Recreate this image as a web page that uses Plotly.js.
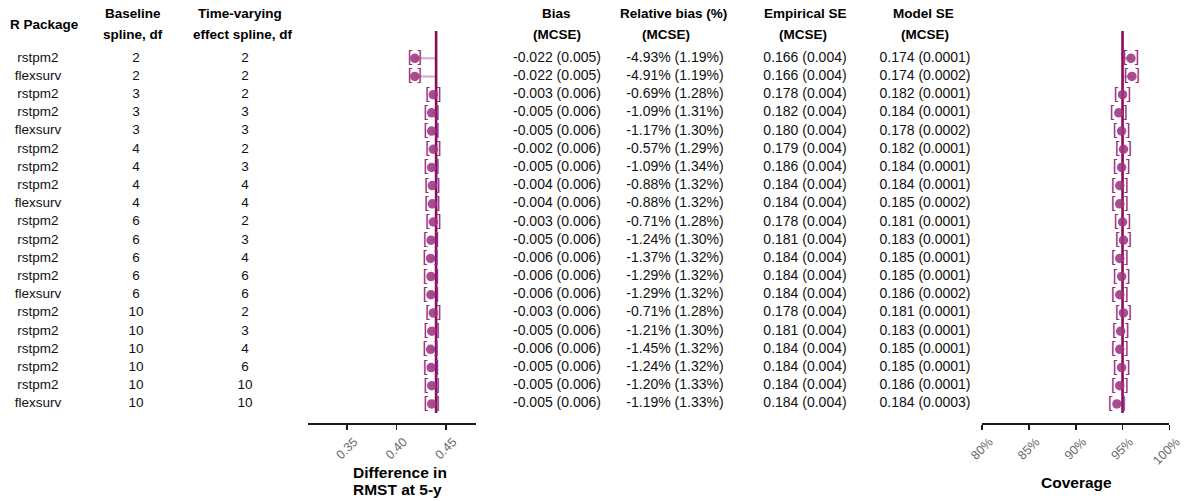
<!DOCTYPE html>
<html>
<head>
<meta charset="utf-8">
<script src="https://cdn.plot.ly/plotly-3.0.1.min.js"></script>
<style>html,body{margin:0;padding:0;background:#fff;}#chart{width:1188px;height:501px;}</style>
</head>
<body>
<div id="chart"></div>
<script>
// ---------- data ----------
const rPackage = ['rstpm2','flexsurv','rstpm2','rstpm2','flexsurv','rstpm2','rstpm2','rstpm2','flexsurv','rstpm2','rstpm2','rstpm2','rstpm2','flexsurv','rstpm2','rstpm2','rstpm2','rstpm2','rstpm2','flexsurv'];
const baselineDf = [2,2,3,3,3,4,4,4,4,6,6,6,6,6,10,10,10,10,10,10];
const tvcDf = [2,2,2,3,3,2,3,4,4,2,3,4,6,6,2,3,4,6,10,10];
const bias = [-0.022,-0.022,-0.003,-0.005,-0.005,-0.002,-0.005,-0.004,-0.004,-0.003,-0.005,-0.006,-0.006,-0.006,-0.003,-0.005,-0.006,-0.005,-0.005,-0.005];
const biasMcse = [0.005,0.005,0.006,0.006,0.006,0.006,0.006,0.006,0.006,0.006,0.006,0.006,0.006,0.006,0.006,0.006,0.006,0.006,0.006,0.006];
const relBias = [-4.93,-4.91,-0.69,-1.09,-1.17,-0.57,-1.09,-0.88,-0.88,-0.71,-1.24,-1.37,-1.29,-1.29,-0.71,-1.21,-1.45,-1.24,-1.20,-1.19];
const relBiasMcse = [1.19,1.19,1.28,1.31,1.30,1.29,1.34,1.32,1.32,1.28,1.30,1.32,1.32,1.32,1.28,1.30,1.32,1.32,1.33,1.33];
const empSE = [0.166,0.166,0.178,0.182,0.180,0.179,0.186,0.184,0.184,0.178,0.181,0.184,0.184,0.184,0.178,0.181,0.184,0.184,0.184,0.184];
const empSEMcse = [0.004,0.004,0.004,0.004,0.004,0.004,0.004,0.004,0.004,0.004,0.004,0.004,0.004,0.004,0.004,0.004,0.004,0.004,0.004,0.004];
const modelSE = [0.174,0.174,0.182,0.184,0.178,0.182,0.184,0.184,0.185,0.181,0.183,0.185,0.185,0.186,0.181,0.183,0.185,0.185,0.186,0.184];
const modelSEMcse = ['0.0001','0.0002','0.0001','0.0001','0.0002','0.0001','0.0001','0.0001','0.0002','0.0001','0.0001','0.0001','0.0001','0.0002','0.0001','0.0001','0.0001','0.0001','0.0001','0.0003'];

// forest plot 1: difference in RMST at 5 years
const trueRMST = 0.440;
const rmstEst = [0.4185,0.4185,0.4372,0.4355,0.4355,0.4372,0.4355,0.4362,0.4362,0.4372,0.4350,0.4345,0.4348,0.4348,0.4372,0.4356,0.4345,0.4350,0.4356,0.4356];
const rmstTicks = [0.35,0.40,0.45];
const rmstTickLabels = ['0.35','0.40','0.45'];

// forest plot 2: coverage (%)
const nominalCoverage = 95;
const coverage = [95.9,96.0,95.0,94.6,94.9,95.1,94.9,94.7,94.7,95.0,95.1,94.7,94.9,94.7,95.1,94.8,94.7,94.9,94.7,94.4];
const coverageMcse = [0.63,0.62,0.69,0.72,0.70,0.68,0.70,0.71,0.71,0.69,0.68,0.71,0.70,0.71,0.68,0.70,0.71,0.70,0.71,0.73];
const coverageTicks = [80,85,90,95,100];
const coverageTickLabels = ['80%','85%','90%','95%','100%'];

// ---------- layout helpers ----------
const W = 1188, H = 501;
const rows = rPackage.map((_, i) => i + 1);
const PURPLE_LINE = '#880c58';
const POINT = 'rgba(158,52,128,0.88)';
const BRACKET = '#97297a';
const SEG = 'rgba(212,150,192,0.85)';
const FONT = 'Liberation Sans, Arial, Helvetica, sans-serif';

function segTrace(est, ref, xa) {
  const xs = [], ys = [];
  est.forEach((v, i) => { xs.push(v, ref, null); ys.push(rows[i], rows[i], null); });
  return {x: xs, y: ys, xaxis: xa, yaxis: 'y', mode: 'lines', line: {color: SEG, width: 2}, hoverinfo: 'skip', showlegend: false};
}
function vline(val, xa) {
  return {x: [val, val], y: [-0.5, 20.5], xaxis: xa, yaxis: 'y', mode: 'lines', line: {color: PURPLE_LINE, width: 2.6}, hoverinfo: 'skip', showlegend: false};
}
function bracket(xs, sym, xa) {
  return {x: xs, y: rows, xaxis: xa, yaxis: 'y', mode: 'text', text: xs.map(() => sym), textposition: 'middle center',
    textfont: {family: FONT, size: 16, color: BRACKET}, cliponaxis: false, hoverinfo: 'skip', showlegend: false};
}
function points(xs, xa) {
  return {x: xs, y: rows, xaxis: xa, yaxis: 'y', mode: 'markers', marker: {symbol: 'circle', size: 9.5, color: POINT, line: {width: 0}}, cliponaxis: false, showlegend: false};
}
function col(cx, texts, size) {
  return {x: rows.map(() => cx), y: rows, xaxis: 'x3', yaxis: 'y', mode: 'text', text: texts, textposition: 'middle center',
    textfont: {family: FONT, size: size, color: '#111'}, cliponaxis: false, hoverinfo: 'skip', showlegend: false};
}

const rmstLo = rmstEst.map((v, i) => v - biasMcse[i]);
const rmstHi = rmstEst.map((v, i) => v + biasMcse[i]);
const covLo = coverage.map((v, i) => v - coverageMcse[i]);
const covHi = coverage.map((v, i) => v + coverageMcse[i]);

const traces = [
  segTrace(rmstEst, trueRMST, 'x'),
  vline(trueRMST, 'x'),
  bracket(rmstLo, '[', 'x'),
  bracket(rmstHi, ']', 'x'),
  points(rmstEst, 'x'),
  segTrace(coverage, nominalCoverage, 'x2'),
  vline(nominalCoverage, 'x2'),
  bracket(covLo, '[', 'x2'),
  bracket(covHi, ']', 'x2'),
  points(coverage, 'x2'),
  col(38, rPackage, 13.5),
  col(136, baselineDf.map(String), 13.5),
  col(245, tvcDf.map(String), 13.5),
  col(557, bias.map((b, i) => b.toFixed(3) + ' (' + biasMcse[i].toFixed(3) + ')'), 14),
  col(675, relBias.map((b, i) => b.toFixed(2) + '% (' + relBiasMcse[i].toFixed(2) + '%)'), 14),
  col(805, empSE.map((b, i) => b.toFixed(3) + ' (' + empSEMcse[i].toFixed(3) + ')'), 14),
  col(925, modelSE.map((b, i) => b.toFixed(3) + ' (' + modelSEMcse[i] + ')'), 14)
];

function hdr(text, cx, cy, size) {
  return {text: text, x: cx / W, y: 1 - cy / H, xref: 'paper', yref: 'paper', xanchor: 'center', yanchor: 'middle',
    showarrow: false, font: {family: FONT, size: size || 13.5, color: '#000'}};
}
const annotations = [
  hdr('<b>R Package</b>', 44, 24),
  hdr('<b>Baseline</b>', 133, 14), hdr('<b>spline, df</b>', 133, 34),
  hdr('<b>Time-varying</b>', 240, 14), hdr('<b>effect spline, df</b>', 243, 34),
  hdr('<b>Bias</b>', 556, 14), hdr('<b>(MCSE)</b>', 557, 35),
  hdr('<b>Relative bias (%)</b>', 673, 14), hdr('<b>(MCSE)</b>', 666, 35),
  hdr('<b>Empirical SE</b>', 805, 14), hdr('<b>(MCSE)</b>', 803, 35),
  hdr('<b>Model SE</b>', 923, 14), hdr('<b>(MCSE)</b>', 925, 35),
  hdr('<b>Difference in</b>', 400, 472, 15.5), hdr('<b>RMST at 5-y</b>', 397, 489, 15.5),
  hdr('<b>Coverage</b>', 1076, 482, 15.5)
];

const axisStyle = {
  anchor: 'y', showline: true, linecolor: '#1a1a1a', linewidth: 1.6, mirror: false,
  ticks: 'outside', ticklen: 5, tickwidth: 1.6, tickcolor: '#1a1a1a',
  tickangle: -45, tickfont: {family: FONT, size: 12.5, color: '#6a6a6a'},
  ticklabelshift: 7, ticklabelstandoff: 0,
  showgrid: false, zeroline: false, fixedrange: true
};

const layout = {
  width: W, height: H,
  margin: {l: 0, r: 0, t: 0, b: 0, pad: 0},
  paper_bgcolor: '#fff', plot_bgcolor: 'rgba(0,0,0,0)',
  showlegend: false,
  xaxis: Object.assign({}, axisStyle, {domain: [308 / W, 476 / W], range: [0.3106, 0.4803], tickvals: rmstTicks, ticktext: rmstTickLabels}),
  xaxis2: Object.assign({}, axisStyle, {domain: [982.3 / W, 1169.3 / W], range: [80, 100], tickvals: coverageTicks, ticktext: coverageTickLabels}),
  xaxis3: {domain: [0, 1], range: [0, W], visible: false, anchor: 'y', fixedrange: true},
  yaxis: {domain: [1 - 423 / H, 1 - 31 / H], range: [21.05, -0.5], visible: false, fixedrange: true},
  annotations: annotations
};

Plotly.newPlot('chart', traces, layout, {staticPlot: true, displayModeBar: false});
</script>
</body>
</html>
